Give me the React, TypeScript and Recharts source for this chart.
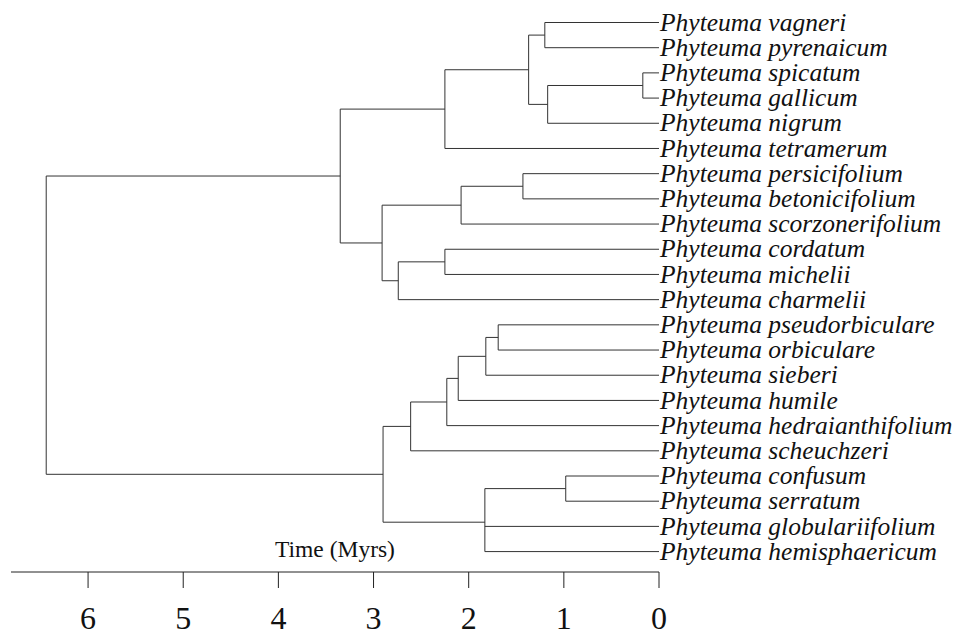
import { Label, Line, LineChart, XAxis, YAxis } from "recharts";

// Tips, top to bottom (row index = position in this list)
const tipNames = [
  "Phyteuma vagneri",
  "Phyteuma pyrenaicum",
  "Phyteuma spicatum",
  "Phyteuma gallicum",
  "Phyteuma nigrum",
  "Phyteuma tetramerum",
  "Phyteuma persicifolium",
  "Phyteuma betonicifolium",
  "Phyteuma scorzonerifolium",
  "Phyteuma cordatum",
  "Phyteuma michelii",
  "Phyteuma charmelii",
  "Phyteuma pseudorbiculare",
  "Phyteuma orbiculare",
  "Phyteuma sieberi",
  "Phyteuma humile",
  "Phyteuma hedraianthifolium",
  "Phyteuma scheuchzeri",
  "Phyteuma confusum",
  "Phyteuma serratum",
  "Phyteuma globulariifolium",
  "Phyteuma hemisphaericum",
];

// Internal nodes: ids, ages (Myrs) and children (numbers = tip rows, strings = node ids)
const nodeIds = [
  "root", "upper", "spicClade", "spicCore", "vagPyr", "spicNig", "spicGal",
  "persClade", "persScorz", "persBet", "cordClade", "cordMich",
  "lower", "orbClade", "orbHedr", "orbHum", "orbSieb", "orbPseudo",
  "globClade", "confSerr",
];
const nodeAges = [
  6.44, 3.35, 2.25, 1.37, 1.2, 1.17, 0.17,
  2.91, 2.08, 1.43, 2.74, 2.25,
  2.9, 2.61, 2.23, 2.11, 1.82, 1.69,
  1.83, 0.98,
];
const nodeChildren: (number | string)[][] = [
  ["upper", "lower"],
  ["spicClade", "persClade"],
  ["spicCore", 5],
  ["vagPyr", "spicNig"],
  [0, 1],
  ["spicGal", 4],
  [2, 3],
  ["persScorz", "cordClade"],
  ["persBet", 8],
  [6, 7],
  ["cordMich", 11],
  [9, 10],
  ["orbClade", "globClade"],
  ["orbHedr", 17],
  ["orbHum", 16],
  ["orbSieb", 15],
  ["orbPseudo", 14],
  [12, 13],
  ["confSerr", 20, 21],
  [18, 19],
];

const timeTicks = [0, 1, 2, 3, 4, 5, 6];

const serif = '"Liberation Serif", "DejaVu Serif", serif';
const branchColor = "#333";

type Pt = { x: number; y: number };

const ageOf = (c: number | string) =>
  typeof c === "number" ? 0 : nodeAges[nodeIds.indexOf(c)];

const rowOf = (c: number | string): number => {
  if (typeof c === "number") return c;
  const kids = nodeChildren[nodeIds.indexOf(c)];
  return kids.reduce<number>((s, k) => s + rowOf(k), 0) / kids.length;
};

// each node gives one vertical connector plus one horizontal branch per child
const segments: Pt[][] = [];
nodeIds.forEach((id, i) => {
  const age = nodeAges[i];
  const rows = nodeChildren[i].map(rowOf);
  segments.push([
    { x: age, y: Math.min(...rows) },
    { x: age, y: Math.max(...rows) },
  ]);
  nodeChildren[i].forEach((c, j) => {
    segments.push([
      { x: age, y: rows[j] },
      { x: ageOf(c), y: rows[j] },
    ]);
  });
});

const TipTick = ({ x, y, payload }: any) => (
  <text
    x={x}
    y={y}
    dy="0.32em"
    textAnchor="start"
    fontFamily={serif}
    fontStyle="italic"
    fontSize={25.5}
    fill="#111"
  >
    {tipNames[payload.value]}
  </text>
);

export default function App() {
  return (
    <div style={{ position: "absolute", left: 0, top: 0, width: 955, height: 636, background: "#fff" }}>
      <LineChart width={955} height={636} margin={{ top: 22.5, right: 0, bottom: 0, left: 11 }}>
        <XAxis
          type="number"
          dataKey="x"
          domain={[0, 6.81]}
          reversed
          ticks={timeTicks}
          height={64}
          tickSize={16}
          tickMargin={18}
          axisLine={{ stroke: "#222" }}
          tickLine={{ stroke: "#222" }}
          tick={{ fontSize: 32, fill: "#111", fontFamily: serif }}
        >
          <Label
            value="Time (Myrs)"
            position="top"
            offset={15}
            style={{ fontSize: 23.5, fill: "#111", fontFamily: serif }}
          />
        </XAxis>
        <YAxis
          type="number"
          dataKey="y"
          orientation="right"
          domain={[0, 21.81]}
          reversed
          ticks={tipNames.map((_, i) => i)}
          interval={0}
          width={296}
          axisLine={false}
          tickLine={false}
          tickSize={0}
          tickMargin={1}
          tick={<TipTick />}
        />
        {segments.map((seg, i) => (
          <Line
            key={i}
            data={seg}
            dataKey="y"
            type="linear"
            stroke={branchColor}
            strokeWidth={1}
            dot={false}
            activeDot={false}
            isAnimationActive={false}
          />
        ))}
      </LineChart>
    </div>
  );
}
